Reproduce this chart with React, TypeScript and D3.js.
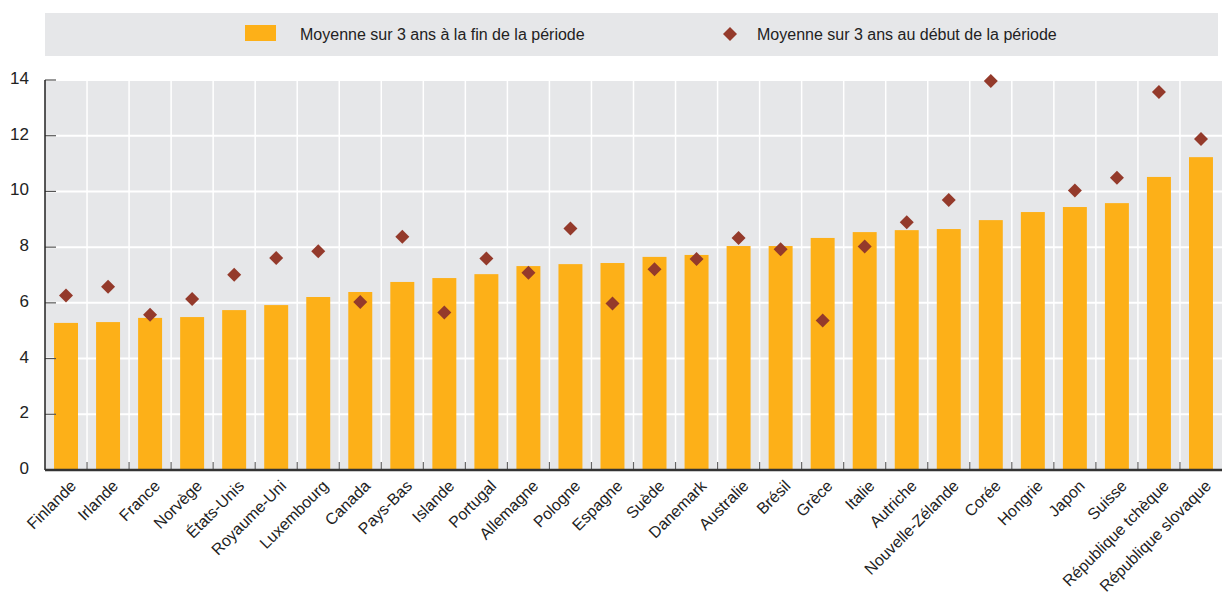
import React, { useEffect, useRef } from 'react';
import * as d3 from 'd3';

const countries = [
  'Finlande', 'Irlande', 'France', 'Norvège', 'États-Unis', 'Royaume-Uni', 'Luxembourg',
  'Canada', 'Pays-Bas', 'Islande', 'Portugal', 'Allemagne', 'Pologne', 'Espagne',
  'Suède', 'Danemark', 'Australie', 'Brésil', 'Grèce', 'Italie', 'Autriche',
  'Nouvelle-Zélande', 'Corée', 'Hongrie', 'Japon', 'Suisse', 'République tchèque',
  'République slovaque',
];

// Moyenne sur 3 ans à la fin de la période
const endValues = [
  5.28, 5.31, 5.46, 5.49, 5.74, 5.92, 6.21,
  6.39, 6.75, 6.89, 7.03, 7.32, 7.39, 7.43,
  7.65, 7.72, 8.04, 8.04, 8.33, 8.54, 8.61,
  8.65, 8.97, 9.26, 9.44, 9.58, 10.52, 11.23,
];

// Moyenne sur 3 ans au début de la période
const startValues: (number | null)[] = [
  6.26, 6.58, 5.57, 6.14, 7.01, 7.61, 7.85,
  6.03, 8.37, 5.65, 7.59, 7.08, 8.67, 5.98,
  7.21, 7.57, 8.33, 7.92, 5.37, 8.02, 8.89,
  9.69, 13.96, null, 10.03, 10.49, 13.57, 11.88,
];

const yTicks = [0, 2, 4, 6, 8, 10, 12, 14];

const legendLabels = [
  'Moyenne sur 3 ans à la fin de la période',
  'Moyenne sur 3 ans au début de la période',
];

const FONT = '"Liberation Sans Narrow", "Arial Narrow", "Liberation Sans", sans-serif';
const BAR = '#fdb018';
const DOT = '#943a2b';
const BG = '#e6e7e9';

const App: React.FC = () => {
  const svgRef = useRef<SVGSVGElement>(null);

  useEffect(() => {
    if (!svgRef.current) return;
    const svg = d3.select(svgRef.current);
    svg.selectAll('*').remove();

    const width = 1222;
    const height = 595;
    const margin = { top: 80, right: 0, bottom: 125, left: 45 };
    const innerW = width - margin.left - margin.right;
    const innerH = height - margin.top - margin.bottom;

    svg.attr('width', width).attr('height', height).style('font-family', FONT);

    // Legend
    const legend = svg.append('g');
    legend.append('rect')
      .attr('x', 45).attr('y', 13).attr('width', 1173).attr('height', 43)
      .attr('fill', BG);
    legend.append('rect')
      .attr('x', 245).attr('y', 25).attr('width', 31).attr('height', 16)
      .attr('fill', BAR);
    legend.append('text')
      .attr('x', 300).attr('y', 34).attr('dy', '0.35em')
      .attr('font-size', 16).attr('fill', '#222')
      .text(legendLabels[0]);
    legend.append('path')
      .attr('d', 'M0,-7L7,0L0,7L-7,0Z')
      .attr('transform', 'translate(730,34)')
      .attr('fill', DOT);
    legend.append('text')
      .attr('x', 757).attr('y', 34).attr('dy', '0.35em')
      .attr('font-size', 16).attr('fill', '#222')
      .text(legendLabels[1]);

    const g = svg.append('g').attr('transform', `translate(${margin.left},${margin.top})`);

    const x = d3.scaleBand<string>().domain(countries).range([0, innerW]).paddingInner(0.43).paddingOuter(0.215);
    const xStep = d3.scaleBand<string>().domain(countries).range([0, innerW]);
    const y = d3.scaleLinear().domain([0, 14]).range([innerH, 0]);

    g.append('rect').attr('width', innerW).attr('height', innerH).attr('fill', BG);

    // Horizontal gridlines
    g.selectAll('.hgrid').data(yTicks.slice(1)).enter().append('line')
      .attr('x1', 0).attr('x2', innerW)
      .attr('y1', d => y(d)).attr('y2', d => y(d))
      .attr('stroke', '#fff').attr('stroke-width', 2);

    // Vertical gridlines at band boundaries
    const bounds = countries.slice(1).map(c => xStep(c) as number);
    g.selectAll('.vgrid').data(bounds).enter().append('line')
      .attr('x1', d => d).attr('x2', d => d)
      .attr('y1', 0).attr('y2', innerH)
      .attr('stroke', '#fff').attr('stroke-width', 1.5);

    // Bars
    g.selectAll('.bar').data(countries).enter().append('rect')
      .attr('x', d => x(d) as number)
      .attr('width', x.bandwidth())
      .attr('y', (d, i) => y(endValues[i]))
      .attr('height', (d, i) => innerH - y(endValues[i]))
      .attr('fill', BAR);

    // Diamonds
    const pts = countries.map((c, i) => ({ c, v: startValues[i] })).filter(p => p.v !== null);
    g.selectAll('.dot').data(pts).enter().append('path')
      .attr('d', 'M0,-7L7,0L0,7L-7,0Z')
      .attr('transform', p => `translate(${(x(p.c) as number) + x.bandwidth() / 2},${y(p.v as number)})`)
      .attr('fill', DOT);

    // Y ticks
    g.selectAll('.ytick').data(yTicks.slice(1)).enter().append('line')
      .attr('x1', 0).attr('x2', 11)
      .attr('y1', d => y(d)).attr('y2', d => y(d))
      .attr('stroke', '#555').attr('stroke-width', 1.2);
    g.selectAll('.ylab').data(yTicks).enter().append('text')
      .attr('x', -16).attr('y', d => y(d) - 2).attr('dy', '0.35em')
      .attr('text-anchor', 'end').attr('font-size', 17).attr('fill', '#222')
      .text(d => d);

    // Bottom ticks
    g.selectAll('.xtick').data(bounds).enter().append('line')
      .attr('x1', d => d).attr('x2', d => d)
      .attr('y1', innerH - 8).attr('y2', innerH)
      .attr('stroke', '#666').attr('stroke-width', 1.2);

    // Axes lines
    g.append('line').attr('x1', 0).attr('x2', 0).attr('y1', 0).attr('y2', innerH)
      .attr('stroke', '#222').attr('stroke-width', 1.5);
    g.append('line').attr('x1', 0).attr('x2', innerW).attr('y1', innerH).attr('y2', innerH)
      .attr('stroke', '#333').attr('stroke-width', 2.5);

    // X labels
    g.selectAll('.xlab').data(countries).enter().append('text')
      .attr('transform', d => `translate(${(x(d) as number) + x.bandwidth() / 2 + 7},${innerH + 13}) rotate(-45)`)
      .attr('text-anchor', 'end').attr('dy', '0.35em')
      .attr('font-size', 16).attr('fill', '#222')
      .text(d => d);
  }, []);

  return (
    <div style={{ position: 'absolute', left: 0, top: 0 }}>
      <svg ref={svgRef}></svg>
    </div>
  );
};

export default App;
